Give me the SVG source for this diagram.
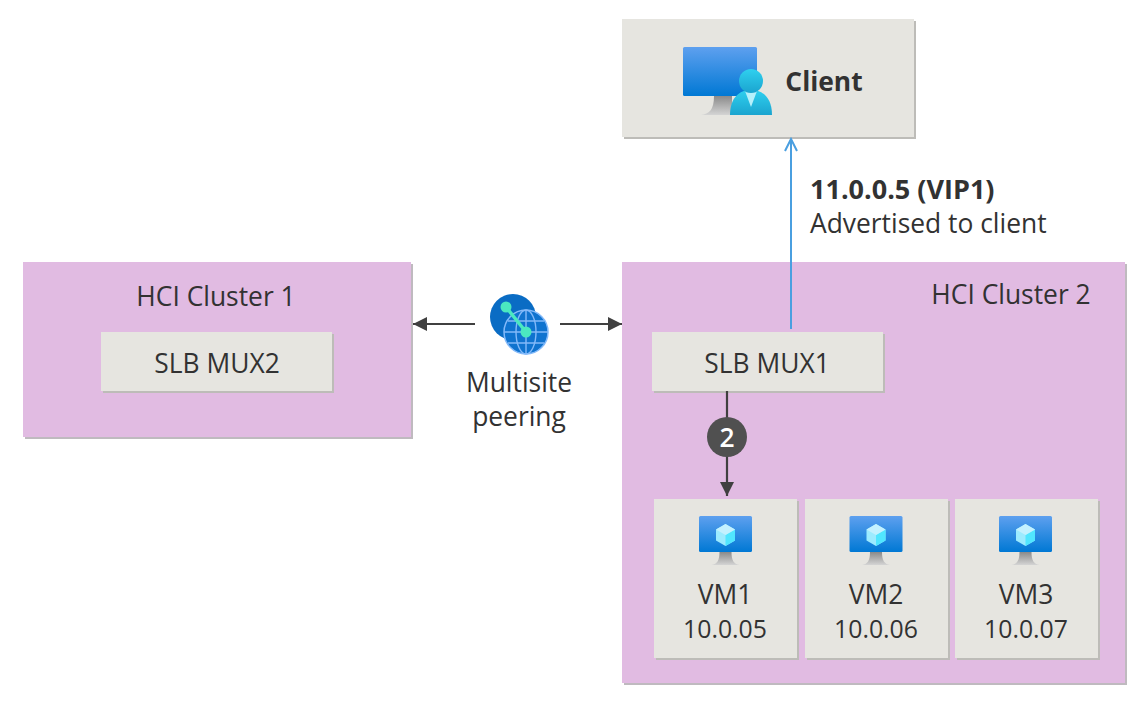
<svg xmlns="http://www.w3.org/2000/svg" width="1148" height="706" viewBox="0 0 1148 706">
<style>
text{font-family:"Open Sans","Noto Sans","Liberation Sans",sans-serif;font-size:26.400px;fill:#323232;text-anchor:middle}
text.n{font-size:24.800px}
.g{fill:#e6e5e0}.s{fill:#bdbcb8}.p{fill:#e1bbe2}.ps{fill:#bfbabf}
.l{stroke:#404040;stroke-width:2.2;fill:none}
</style>
<defs>
<linearGradient id="scr" x1="0" y1="0" x2="0" y2="1"><stop offset="0" stop-color="#5ea0ef"/><stop offset="1" stop-color="#0078d4"/></linearGradient>
<linearGradient id="st" x1="0" y1="0" x2="0" y2="1"><stop offset="0" stop-color="#8a8a8a"/><stop offset="1" stop-color="#d4d4d4"/></linearGradient>
<linearGradient id="usr" x1="0" y1="0" x2="0" y2="1"><stop offset="0" stop-color="#2fd0ef"/><stop offset="1" stop-color="#1ba4cf"/></linearGradient>
<g id="vmicon">
<path d="M-14 40h28c-6-1-8-5-8-13h-12c0 8-2 12-8 13z" fill="url(#st)"/>
<rect x="-26.500" y="-9" width="53" height="36" rx="1.500" fill="url(#scr)"/>
<path d="M0 -1l9.500 5.500v11l-9.500 5.500l-9.500-5.500v-11z" fill="#9cebff"/>
<path d="M0 10l9.500-5.500v11l-9.500 5.500z" fill="#50e6ff"/>
<path d="M0 10l-9.500-5.500l9.500-5.500l9.500 5.500z" fill="#c3f1ff"/>
</g>
<marker id="ad" markerUnits="userSpaceOnUse" markerWidth="16" markerHeight="14" refX="14" refY="7" orient="auto"><path d="M0 0L14 7L0 14z" fill="#404040"/></marker>
<marker id="ab" markerUnits="userSpaceOnUse" markerWidth="16" markerHeight="16" refX="13" refY="7" orient="auto"><path d="M1 1L13 7L1 13" fill="none" stroke="#4a9fe0" stroke-width="2"/></marker>
</defs>

<g id="cluster1"><rect x="25" y="264" width="388" height="175" class="ps"/><rect x="23" y="262" width="388" height="175" class="p"/><text x="216" y="306">HCI Cluster 1</text></g>
<g id="cluster2"><rect x="624" y="264" width="503" height="421" class="ps"/><rect x="622" y="262" width="503" height="421" class="p"/><text x="1011" y="304">HCI Cluster 2</text></g>

<g id="client"><rect x="624" y="21" width="292" height="118" class="s"/><rect x="622" y="19" width="292" height="118" class="g"/>
<path d="M701 115c8-1 13-5 13-19h18v19z" fill="url(#st)"/>
<rect x="683" y="47" width="74" height="49" rx="1.500" fill="url(#scr)"/>
<path d="M730 115c0-17 9-25 21-25s21 8 21 25z" fill="url(#usr)"/>
<path d="M745 91h12l-6 16z" fill="#b6f0fb"/>
<circle cx="751" cy="81" r="12" fill="url(#usr)"/>
<text x="824" y="91" style="font-weight:700">Client</text></g>

<g id="mux2"><rect x="103" y="334" width="231" height="59" class="s"/><rect x="101" y="332" width="231" height="59" class="g"/><text x="217" y="373">SLB MUX2</text></g>
<g id="mux1"><rect x="654" y="334" width="231" height="59" class="s"/><rect x="652" y="332" width="231" height="59" class="g"/><text x="767" y="373">SLB MUX1</text></g>

<g id="peering">
<circle cx="513" cy="317" r="23" fill="#0a6cc4"/>
<circle cx="526" cy="332" r="22" fill="#0f73cf" stroke="#83b9f9" stroke-width="1.500"/>
<g fill="none" stroke="#83b9f9" stroke-width="1.400"><ellipse cx="526" cy="332" rx="10" ry="22"/><path d="M526 310v44M504 332h44M508 321h36M508 343h36"/></g>
<path d="M506 307L526 332" stroke="#4be8c0" stroke-width="3.500"/>
<circle cx="506" cy="307" r="5.500" fill="#4be8c0"/><circle cx="526" cy="332" r="5.500" fill="#4be8c0"/>
<text x="519" y="392">Multisite</text><text x="519" y="426">peering</text></g>

<g id="vm1"><rect x="656" y="501" width="143" height="159" class="s"/><rect x="654" y="499" width="143" height="159" class="g"/><use href="#vmicon" x="725.500" y="525"/><text x="725" y="604">VM1</text><text class="n" x="725" y="638">10.0.05</text></g>
<g id="vm2"><rect x="807" y="501" width="143" height="159" class="s"/><rect x="805" y="499" width="143" height="159" class="g"/><use href="#vmicon" x="876" y="525"/><text x="876" y="604">VM2</text><text class="n" x="876" y="638">10.0.06</text></g>
<g id="vm3"><rect x="957" y="501" width="143" height="159" class="s"/><rect x="955" y="499" width="143" height="159" class="g"/><use href="#vmicon" x="1025.500" y="525"/><text x="1026" y="604">VM3</text><text class="n" x="1026" y="638">10.0.07</text></g>

<g id="connectors">
<path d="M791 329V139" stroke="#4a9fe0" stroke-width="2" fill="none" marker-end="url(#ab)"/>
<path d="M475 324H413" class="l" marker-end="url(#ad)"/>
<path d="M560 324H622" class="l" marker-end="url(#ad)"/>
<path d="M727 391V496" class="l" marker-end="url(#ad)"/>
<circle cx="727" cy="437" r="20" fill="#505050"/>
<text x="727" y="447" style="fill:#fff;font-weight:600">2</text>
</g>
<text x="810" y="199" style="text-anchor:start;font-weight:700;font-size:27px">11.0.0.5 (VIP1)</text>
<text x="810" y="233" style="text-anchor:start">Advertised to client</text>
</svg>
